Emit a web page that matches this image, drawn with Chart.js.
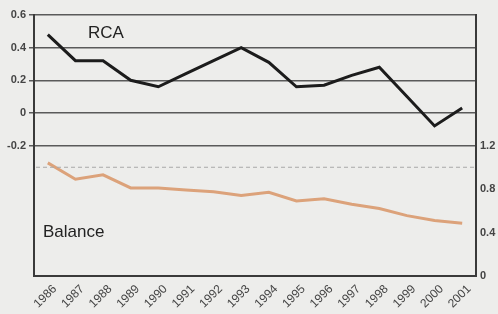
<!DOCTYPE html>
<html>
<head>
<meta charset="utf-8">
<script src="https://cdn.jsdelivr.net/npm/chart.js@4"></script>
<style>
  html, body { margin: 0; padding: 0; background: #ededeb; }
  #wrap { width: 498px; height: 314px; }
</style>
</head>
<body>
<div id="wrap"><canvas id="chart" width="498" height="314"></canvas></div>
<script>
const years = ['1986', '1987', '1988', '1989', '1990', '1991', '1992', '1993',
  '1994', '1995', '1996', '1997', '1998', '1999', '2000', '2001'];
const rca = [0.48, 0.32, 0.32, 0.20, 0.16, 0.24, 0.32, 0.40,
  0.31, 0.16, 0.17, 0.23, 0.28, 0.10, -0.08, 0.03];
const balance = [1.04, 0.89, 0.93, 0.81, 0.81, 0.79, 0.775, 0.74,
  0.77, 0.69, 0.71, 0.66, 0.62, 0.555, 0.51, 0.485];
const leftTicks = [0.6, 0.4, 0.2, 0, -0.2];
const rightTicks = [0, 0.4, 0.8, 1.2];
const refLevel = 1.0;

const ink = '#3a3a3a';
const font = '"Liberation Sans", Arial, sans-serif';

// dashed reference line and the two panel captions
const extras = {
  id: 'extras',
  afterDatasetsDraw(chart) {
    const { ctx, chartArea: a, scales } = chart;
    const y = scales.y1.getPixelForValue(refLevel);
    ctx.save();
    ctx.strokeStyle = '#a8a8a8';
    ctx.lineWidth = 1;
    ctx.setLineDash([4, 3]);
    ctx.beginPath();
    ctx.moveTo(a.left + 2, y);
    ctx.lineTo(a.right, y);
    ctx.stroke();
    ctx.setLineDash([]);
    ctx.fillStyle = '#222';
    ctx.font = '17px ' + font;
    ctx.textBaseline = 'middle';
    ctx.fillText('RCA', a.left + 54, scales.y.getPixelForValue(0.49));
    ctx.fillText('Balance', a.left + 9, scales.y1.getPixelForValue(0.4));
    ctx.restore();
  }
};

new Chart(document.getElementById('chart'), {
  type: 'line',
  data: {
    labels: years,
    datasets: [
      {
        label: 'RCA',
        data: rca,
        yAxisID: 'y',
        borderColor: '#1c1c1c',
        borderWidth: 3,
        pointRadius: 0,
        tension: 0
      },
      {
        label: 'Balance',
        data: balance,
        yAxisID: 'y1',
        borderColor: '#dca27a',
        borderWidth: 3,
        pointRadius: 0,
        tension: 0
      }
    ]
  },
  options: {
    responsive: false,
    animation: false,
    layout: { padding: { top: 15, left: 0, right: 0, bottom: 0 } },
    plugins: {
      legend: { display: false },
      tooltip: { enabled: false }
    },
    scales: {
      x: {
        offset: true,
        afterFit(axis) { axis.height = 38; },
        grid: { display: false, drawTicks: false },
        border: { color: ink, width: 2 },
        ticks: {
          color: '#444',
          font: { size: 12, family: font },
          maxRotation: 45,
          minRotation: 45,
          padding: 6,
          labelOffset: 7,
          autoSkip: false
        }
      },
      y: {
        position: 'left',
        min: -1.0,
        max: 0.6,
        afterBuildTicks(axis) {
          axis.ticks = leftTicks.map(v => ({ value: v }));
        },
        afterFit(axis) { axis.width = 34; },
        grid: {
          color: '#5a5a5a',
          lineWidth: 1.5,
          tickLength: 5
        },
        border: { color: ink, width: 2 },
        ticks: {
          color: '#444',
          font: { size: 11, weight: 'bold', family: font },
          padding: 3,
          callback: v => (v === 0 ? '0' : v.toFixed(1))
        }
      },
      y1: {
        position: 'right',
        min: 0,
        max: 2.4,
        afterBuildTicks(axis) {
          axis.ticks = rightTicks.map(v => ({ value: v }));
        },
        afterFit(axis) { axis.width = 22; },
        grid: { display: false, drawTicks: false },
        border: { color: ink, width: 2 },
        ticks: {
          color: '#444',
          font: { size: 11, weight: 'bold', family: font },
          padding: 4,
          callback: v => (v === 0 ? '0' : v.toFixed(1))
        }
      }
    }
  },
  plugins: [extras]
});
</script>
</body>
</html>
